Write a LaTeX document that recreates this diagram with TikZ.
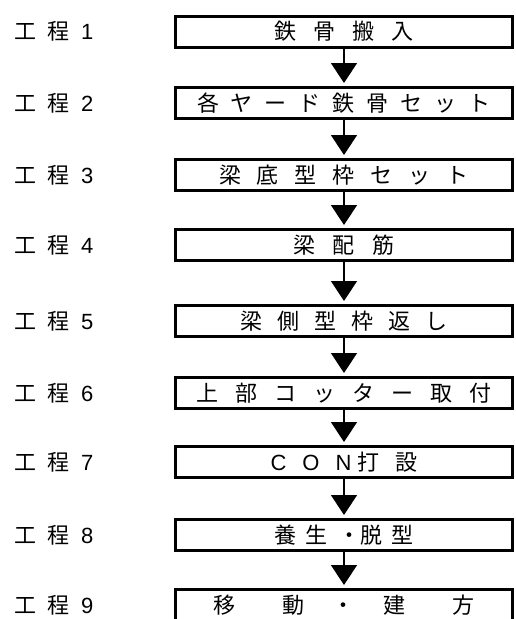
\documentclass[tikz,border=0pt]{standalone}
\usepackage{fontspec}
\setmainfont{Noto Sans CJK JP}
\newfontfamily\latinfont{Liberation Sans}
\usetikzlibrary{arrows.meta}
\newcommand\gp[1]{\hspace{#1pt}}
\begin{document}
\begin{tikzpicture}[x=1pt,y=-1pt,
  stepbox/.style={draw=black, line width=3pt, minimum width=337pt, minimum height=31pt, inner sep=0pt, font=\fontsize{22}{22}\selectfont},
  steplabel/.style={anchor=west, inner sep=0pt, font=\fontsize{22}{22}\selectfont},
  flow/.style={line width=1.6pt, -{Triangle[width=26pt,length=20pt]}, shorten >=3pt}]
\useasboundingbox (0,0) rectangle (515,619);
\clip (0,0) rectangle (515,619);
\node[stepbox] (b1) at (344,31.5) {鉄\gp{17}骨\gp{17}搬\gp{17}入};
\node[stepbox] (b2) at (344,103) {各\gp{12}ヤ\gp{12}ー\gp{12}ド\gp{12}鉄\gp{12}骨\gp{12}セ\gp{12}ッ\gp{12}ト};
\node[stepbox] (b3) at (344,175) {梁\gp{16}底\gp{16}型\gp{16}枠\gp{16}セ\gp{16}ッ\gp{16}ト};
\node[stepbox] (b4) at (344,245) {梁\gp{18}配\gp{18}筋};
\node[stepbox] (b5) at (344,321) {梁\gp{15}側\gp{15}型\gp{15}枠\gp{15}返\gp{15}し};
\node[stepbox] (b6) at (344,393) {上\gp{17}部\gp{17}コ\gp{17}ッ\gp{17}タ\gp{17}ー\gp{17}取\gp{17}付};
\node[stepbox] (b7) at (344,462) {{\latinfont C\gp{16}O\gp{16}N}\gp{6}打\gp{16}設};
\node[stepbox] (b8) at (344,535) {養\gp{10}生\gp{10}・脱\gp{10}型};
\node[stepbox] (b9) at (344,605) {移\gp{48}動\gp{28}・\gp{29}建\gp{47}方};
\node[steplabel] (l1) at (14,31.5) {工\gp{11}程\gp{12}{\latinfont 1}};
\node[steplabel] (l2) at (14,103) {工\gp{11}程\gp{12}{\latinfont 2}};
\node[steplabel] (l3) at (14,175) {工\gp{11}程\gp{12}{\latinfont 3}};
\node[steplabel] (l4) at (14,245) {工\gp{11}程\gp{12}{\latinfont 4}};
\node[steplabel] (l5) at (14,321) {工\gp{11}程\gp{12}{\latinfont 5}};
\node[steplabel] (l6) at (14,393) {工\gp{11}程\gp{12}{\latinfont 6}};
\node[steplabel] (l7) at (14,462) {工\gp{11}程\gp{12}{\latinfont 7}};
\node[steplabel] (l8) at (14,535) {工\gp{11}程\gp{12}{\latinfont 8}};
\node[steplabel] (l9) at (14,605) {工\gp{11}程\gp{12}{\latinfont 9}};
\draw[flow] (b1.south) -- (b2.north);
\draw[flow] (b2.south) -- (b3.north);
\draw[flow] (b3.south) -- (b4.north);
\draw[flow] (b4.south) -- (b5.north);
\draw[flow] (b5.south) -- (b6.north);
\draw[flow] (b6.south) -- (b7.north);
\draw[flow] (b7.south) -- (b8.north);
\draw[flow] (b8.south) -- (b9.north);
\end{tikzpicture}
\end{document}
